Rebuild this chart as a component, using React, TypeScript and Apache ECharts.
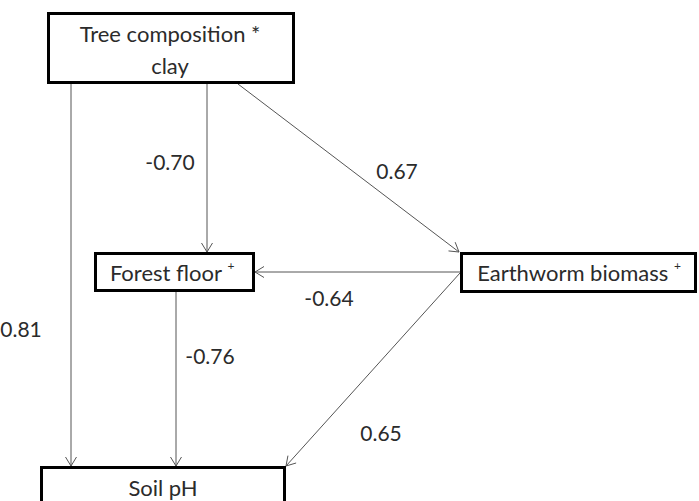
import React, { useEffect, useRef } from "react";
import * as echarts from "echarts";

// Content
const nodeNames = ["Tree composition *\nclay", "Forest floor", "Earthworm biomass", "Soil pH"];
const nodeSuperscript = ["", "+", "+", ""];
const edgeFrom = [0, 0, 0, 2, 1, 2];
const edgeTo = [3, 1, 2, 1, 3, 3];
const coefficients = [0.81, -0.7, 0.67, -0.64, -0.76, 0.65];

// Layout (pixels)
const boxRects = [
  [47, 12, 248, 72],
  [94, 252, 161, 40],
  [460, 252, 237, 41],
  [40, 466, 246, 70],
];
const boxTextCenters = [
  [170, 49],
  [172, 272],
  [579, 272],
  [163, 487],
];
const edgePoints = [
  [71, 84, 71, 466],
  [207, 84, 207, 252],
  [238, 84, 459, 252],
  [460, 272, 255, 272],
  [176, 292, 176, 466],
  [460, 273, 286, 466],
];
const labelCenters = [
  [21, 328],
  [170, 161],
  [397, 170],
  [329, 297],
  [210, 355],
  [381, 432],
];

const FONT = "Lato";
const TEXT_COLOR = "#2b2b2b";
const LINE_COLOR = "#555";
const BOX_FONT = 22;

function buildGraphics() {
  const els: any[] = [];
  // arrows
  edgePoints.forEach(([x1, y1, x2, y2]) => {
    els.push({
      type: "line",
      shape: { x1, y1, x2, y2 },
      style: { stroke: LINE_COLOR, lineWidth: 1 },
      silent: true,
    });
    const dx = x2 - x1;
    const dy = y2 - y1;
    const len = Math.sqrt(dx * dx + dy * dy);
    const ux = dx / len;
    const uy = dy / len;
    const L = 9;
    const W = 5.5;
    const bx = x2 - ux * L;
    const by = y2 - uy * L;
    els.push({
      type: "polyline",
      shape: {
        points: [
          [bx - uy * W, by + ux * W],
          [x2, y2],
          [bx + uy * W, by - ux * W],
        ],
      },
      style: { stroke: LINE_COLOR, lineWidth: 1, fill: null },
      silent: true,
    });
  });
  // boxes
  boxRects.forEach(([x, y, w, h], i) => {
    els.push({
      type: "rect",
      shape: { x: x + 1.5, y: y + 1.5, width: w - 3, height: h - 3 },
      style: { fill: "#fff", stroke: "#000", lineWidth: 3 },
      silent: true,
    });
    const [cx, cy] = boxTextCenters[i];
    const sup = nodeSuperscript[i];
    els.push({
      type: "text",
      x: cx,
      y: cy,
      style: {
        text: sup ? `{t|${nodeNames[i]} }{s|${sup}}` : nodeNames[i],
        fontFamily: FONT,
        fontSize: BOX_FONT,
        fill: TEXT_COLOR,
        align: "center",
        verticalAlign: "middle",
        lineHeight: 32,
        rich: {
          t: { fontSize: BOX_FONT, fontFamily: FONT, fill: TEXT_COLOR, lineHeight: 26 },
          s: { fontSize: 12, fontFamily: FONT, fill: TEXT_COLOR, lineHeight: 26, verticalAlign: "top" },
        },
      },
      silent: true,
    });
  });
  // coefficient labels
  coefficients.forEach((c, i) => {
    const [cx, cy] = labelCenters[i];
    els.push({
      type: "text",
      x: cx,
      y: cy,
      style: {
        text: c.toFixed(2),
        fontFamily: FONT,
        fontSize: 21,
        fill: TEXT_COLOR,
        align: "center",
        verticalAlign: "middle",
      },
      silent: true,
    });
  });
  return els;
}

export default function App() {
  const ref = useRef<HTMLDivElement>(null);
  useEffect(() => {
    if (!ref.current) return;
    const chart = echarts.init(ref.current, undefined, { renderer: "svg" });
    chart.setOption({
      animation: false,
      backgroundColor: "#fff",
      graphic: { elements: buildGraphics() },
    });
    return () => chart.dispose();
  }, []);
  return (
    <div
      ref={ref}
      style={{ position: "absolute", left: 0, top: 0, width: 699, height: 501, background: "#fff" }}
    />
  );
}
